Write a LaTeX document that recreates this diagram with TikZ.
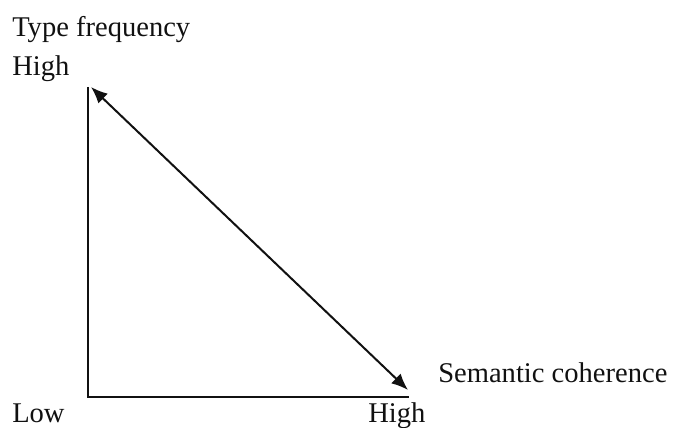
\documentclass[tikz,border=0pt]{standalone}
\usepackage{fontspec}
\setmainfont{Liberation Serif}
\usetikzlibrary{arrows.meta}
\definecolor{axink}{HTML}{111111}
\tikzset{
  axis/.style={draw=axink,line width=1.5pt},
  trend/.style={{Latex[length=4.4mm,width=3.6mm]}-{Latex[length=4.4mm,width=3.6mm]},draw=axink,line width=1.5pt},
  lab/.style={font=\fontsize{21.5}{26}\selectfont,text=axink,inner sep=0pt,anchor=base west},
}
\begin{document}
\begin{tikzpicture}[x=0.02646cm,y=-0.02646cm]
  \path[use as bounding box] (0,0) rectangle (673,428);
  \coordinate (origin) at (88,397);
  \coordinate (ytop) at (88,87);
  \coordinate (xend) at (409,397);
  \coordinate (hiy) at (91,87);
  \coordinate (hix) at (408,390);
  \draw[axis] (ytop) -- (origin) -- (xend);
  \draw[trend] (hiy) -- (hix);
  \node[lab] (ylab) at (12,37) {Type frequency};
  \node[lab] (yhigh) at (12,76) {High};
  \node[lab] (low) at (12,423) {Low};
  \node[lab] (xhigh) at (368,423) {High};
  \node[lab] (xlab) at (438,383) {Semantic coherence};
\end{tikzpicture}
\end{document}
